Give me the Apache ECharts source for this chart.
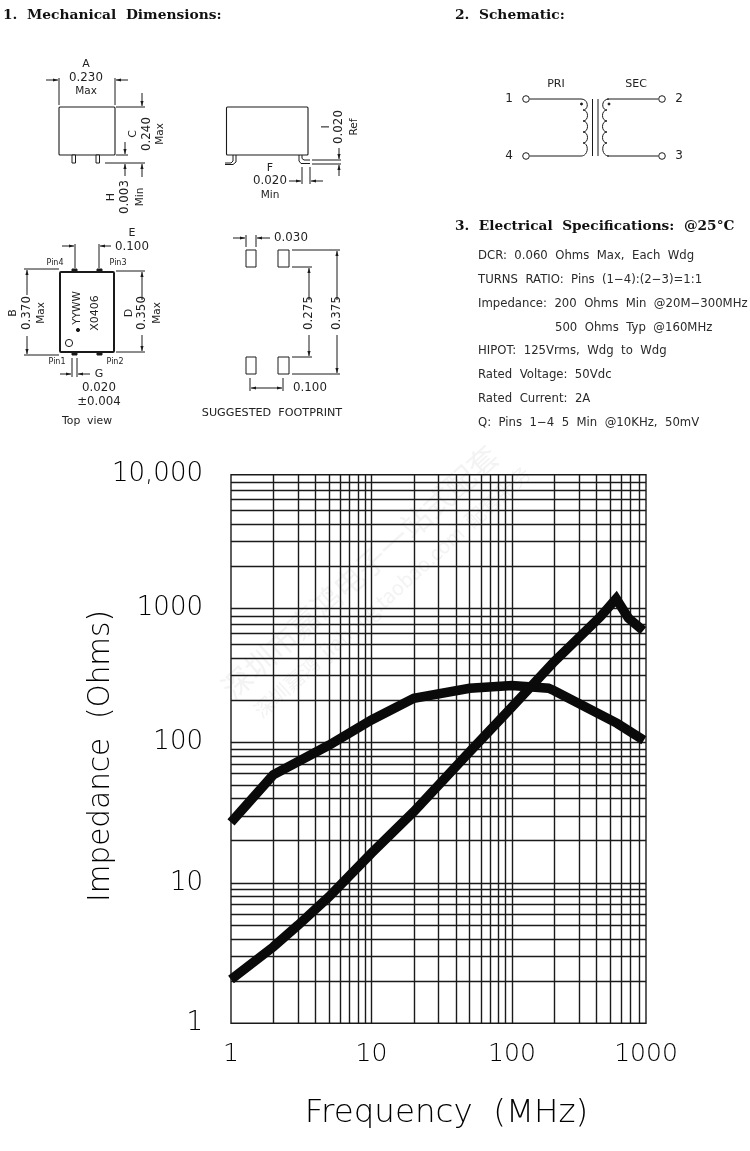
<!DOCTYPE html>
<html><head><meta charset="utf-8">
<style>html,body{margin:0;padding:0;background:#fff}#c{width:750px;height:1151px}</style>
<script src="https://cdn.jsdelivr.net/npm/echarts@6/dist/echarts.min.js"></script>
</head><body><div id="c"></div>
<script>
// Chart data. The printed grid stops at its 9th line, which carries the next decade's label.
var xGridValues = [2,3,4,5,6,7,8,9,10,20,30,40,50,60,70,80,90,100,200,300,400,500,600,700,800];
var yGridValues = [2,3,4,5,6,7,8,9,10,20,30,40,50,60,70,80,90,100,200,300,400,500,600,700,800,900,1800,2700,3600,4500,5400,6300,7200];
var xTickValues = [1,10,100,900];
var xTickLabels = ['1','10','100','1000'];
var yTickValues = [1,10,100,900,8100];
var yTickLabels = ['1','10','100','1000','10,000'];
var curveMagnitudeA = [[1,27],[2,59],[5,96],[10,145],[20,207],[50,244],[100,255],[182,244],[200,234],[561,137],[869,104]];
var curveMagnitudeB = [[1,2.05],[2,3.5],[3,5],[5,8],[10,16.3],[20,32.2],[50,86],[100,179],[200,378],[427,790],[552,1060],[675,770],[860,628]];

var ink = '#1a1a1a';
var els = [];
function line(x1,y1,x2,y2,w){els.push({type:'line',silent:true,shape:{x1:x1,y1:y1,x2:x2,y2:y2},style:{stroke:ink,lineWidth:w||1}});}
function rect(x,y,w,h,lw,r,fill){els.push({type:'rect',silent:true,shape:{x:x,y:y,width:w,height:h,r:r||0},style:{fill:fill||'#fff',stroke:ink,lineWidth:lw||1}});}
function text(s,x,y,size,rot,font,weight,color){els.push({type:'text',silent:true,x:x,y:y,rotation:rot?Math.PI/2:0,style:{text:s,x:0,y:0,fill:color||'#222',font:(weight||'normal')+' '+size+'px '+(font||'"DejaVu Sans"'),textAlign:'center',textVerticalAlign:'middle'}});}
function ltext(s,x,y,size,font,weight,color){els.push({type:'text',silent:true,x:x,y:y,style:{text:s,x:0,y:0,fill:color||'#111',font:(weight||'normal')+' '+size+'px '+(font||'"DejaVu Sans"'),textAlign:'left',textVerticalAlign:'middle'}});}
function arrow(x1,y1,x2,y2){
  line(x1,y1,x2,y2,1);
  var dx=x2-x1,dy=y2-y1,l=Math.sqrt(dx*dx+dy*dy),ux=dx/l,uy=dy/l,a=5,b=1.6;
  els.push({type:'polygon',silent:true,shape:{points:[[x2,y2],[x2-ux*a-uy*b,y2-uy*a+ux*b],[x2-ux*a+uy*b,y2-uy*a-ux*b]]},style:{fill:ink}});
}
function poly(points,w){els.push({type:'polyline',silent:true,shape:{points:points},style:{fill:null,stroke:ink,lineWidth:w||1}});}
function bez(x1,y1,cx1,cy1,cx2,cy2,x2,y2){els.push({type:'bezierCurve',silent:true,shape:{x1:x1,y1:y1,cpx1:cx1,cpy1:cy1,cpx2:cx2,cpy2:cy2,x2:x2,y2:y2},style:{fill:null,stroke:ink,lineWidth:1}});}
function circle(x,y,r,fill){els.push({type:'circle',silent:true,shape:{cx:x,cy:y,r:r},style:{fill:fill||'#fff',stroke:ink,lineWidth:1}});}
function coil(xa,xb,dir){
  var ys=[99,110,121,132,143,156];
  for(var i=0;i<5;i++){
    var x0=i===0?xa:xb, x1=i===4?xa:xb;
    bez(x0,ys[i],xb+dir*6,ys[i],xb+dir*6,ys[i+1],x1,ys[i+1]);
  }
}

var SERIF='"DejaVu Serif"';
// Faint background stamp
els.push({type:'text',silent:true,x:360,y:572,rotation:Math.PI*42/180,z:-1,style:{text:'深圳市嘉鸿电子一站式配套',x:0,y:0,fill:'#f3f3f3',font:'30px "Noto Sans CJK SC"',textAlign:'center',textVerticalAlign:'middle'}});
els.push({type:'text',silent:true,x:392,y:592,rotation:Math.PI*42/180,z:-1,style:{text:'深圳嘉鸿  jiahong.taobao.com  配套服务',x:0,y:0,fill:'#f3f3f3',font:'20px "Noto Sans CJK SC"',textAlign:'center',textVerticalAlign:'middle'}});
// Headings
ltext('1.  Mechanical  Dimensions:',3,15,13.8,SERIF,'bold');
ltext('2.  Schematic:',455,15,13.8,SERIF,'bold');
ltext('3.  Electrical  Specifications:  @25°C',455,226,13.7,SERIF,'bold');

// Drawing 1
rect(59,107,56,48,1.1,1);
rect(72,155,3.5,8,1);rect(96,155,3.5,8,1);
line(59,78,59,105);line(115,78,115,105);
arrow(46,80,58,80);arrow(128,80,116,80);
text('A',86,64,11);text('0.230',86,78,11.8);text('Max',86,91,10.5);
line(116,107,145,107);arrow(142,93,142,106);
line(116,155,128,155);arrow(125,142,125,154);
text('C',133,134,11,true);text('0.240',147,134,11.8,true);text('Max',160,134,10.5,true);
line(105,163,145,163);arrow(125,176,125,164);arrow(142,177,142,164);
text('H',111,197,11,true);text('0.003',125,197,11.8,true);text('Min',140,197,10.5,true);

// Drawing 2
rect(226.5,107,81.5,48,1.1,1);
poly([[233,155],[233,161],[231,163],[225,163]]);
poly([[236,155],[236,162],[233,164.5],[225,164.5]]);
poly([[299,155],[299,161],[301,163.5],[310,163.5]]);
poly([[302,155],[302,158.5],[304,160],[310,160]]);
line(312,160,341,160);line(312,164,341,164);
arrow(339,148,339,159);arrow(339,176,339,165);
text('I',326,127,11,true);text('0.020',339,127,11.8,true);text('Ref',354,127,10.5,true);
line(302,167,302,184);line(310,167,310,184);
arrow(289,181,301,181);arrow(323,181,311,181);
text('F',270,168,11);text('0.020',270,181,11.8);text('Min',270,195,10.5);

// Top view
rect(72,269,5,3,1,0,ink);rect(97,269,5,3,1,0,ink);rect(72,352,5,3,1,0,ink);rect(97,352,5,3,1,0,ink);
rect(60,272,54,80,2,1);
line(24,269,59,269);line(24,355,59,355);
arrow(27,295,27,270);arrow(27,336,27,354);
text('B',13,313,11,true);text('0.370',27,313,11.8,true);text('Max',41,313,10.5,true);
text('YYWW',77,308,10.5,true);circle(78,330,1.6,ink);
text('X0406',95,313,11,true);circle(69,343,3.6);
line(116,271,145,271);line(116,352,145,352);
arrow(142,300,142,272);arrow(142,335,142,351);
text('D',129,313,11,true);text('0.350',142,313,11.8,true);text('Max',157,313,10.5,true);
text('Pin4',55,263,8);text('Pin3',118,263,8);text('Pin1',57,362,8);text('Pin2',115,362,8);
text('E',132,233,11);text('0.100',132,247,11.8);
line(75,244,75,268);line(99,244,99,268);
arrow(62,246,74,246);arrow(111,246,100,246);
line(72,358,72,377);line(77,358,77,377);
arrow(60,374,71,374);arrow(90,374,78,374);
text('G',99,374,11);text('0.020',99,388,11.8);text('±0.004',99,402,11.8);text('Top  view',87,421,10.8);

// Footprint
rect(246,250,10,17,1);rect(278,250,11,17,1);rect(246,357,10,17,1);rect(278,357,11,17,1);
line(246,235,246,247);line(256,235,256,247);
arrow(233,238,245,238);arrow(270,238,257,238);text('0.030',291,238,11.8);
line(292,250,340,250);line(292,267,312,267);line(292,357,312,357);line(292,374,340,374);
arrow(309,300,309,268);arrow(309,335,309,356);text('0.275',309,313,11.8,true);
arrow(337,300,337,251);arrow(337,335,337,373);text('0.375',337,313,11.8,true);
line(250,378,250,391);line(283,378,283,391);
arrow(262,388,251,388);arrow(270,388,282,388);line(262,388,270,388);
text('0.100',310,388,11.8);text('SUGGESTED  FOOTPRINT',272,413,11.2);

// Schematic
text('PRI',556,84,11);text('SEC',636,84,11);
text('1',509,99,12);text('4',509,156,12);text('2',679,99,12);text('3',679,156,12);
circle(526,99,3.3);circle(526,156,3.3);circle(662,99,3.3);circle(662,156,3.3);
line(530,99,581,99);line(530,156,581,156);line(607,99,658,99);line(607,156,658,156);
line(592.5,99,592.5,156);line(598,99,598,156);
coil(581,583,1);coil(609,607,-1);
circle(581.5,104,1,ink);circle(609,104,1,ink);

// Specs
var F='"DejaVu Sans"', SPEC=11.7, SC='#2a2a2a';
ltext('DCR:  0.060  Ohms  Max,  Each  Wdg',478,256,SPEC,F,null,SC);
ltext('TURNS  RATIO:  Pins  (1−4):(2−3)=1:1',478,280,SPEC,F,null,SC);
ltext('Impedance:  200  Ohms  Min  @20M−300MHz',478,304,SPEC,F,null,SC);
ltext('500  Ohms  Typ  @160MHz',555,328,SPEC,F,null,SC);
ltext('HIPOT:  125Vrms,  Wdg  to  Wdg',478,351,SPEC,F,null,SC);
ltext('Rated  Voltage:  50Vdc',478,375,SPEC,F,null,SC);
ltext('Rated  Current:  2A',478,399,SPEC,F,null,SC);
ltext('Q:  Pins  1−4  5  Min  @10KHz,  50mV',478,423,SPEC,F,null,SC);

function gridLines(vals,dim){
  return vals.map(function(v){var o={};o[dim]=v;return o;});
}
var THIN='"DejaVu Sans Light","DejaVu Sans ExtraLight","DejaVu Sans"';
var chart = echarts.init(document.getElementById('c'),null,{renderer:'canvas',width:750,height:1151});
var gridStyle={color:'#1a1a1a',width:1.4,type:'solid'};
chart.setOption({
  animation:false,
  backgroundColor:'#fff',
  graphic:{elements:els},
  grid:{left:231,top:474.7,width:415,height:548.6,show:true,borderColor:'#1a1a1a',borderWidth:1.4,backgroundColor:'transparent'},
  xAxis:{type:'log',logBase:10,min:1,max:900,
    name:'Frequency  (MHz)',nameLocation:'middle',nameGap:74,nameMoveOverlap:false,
    nameTextStyle:{fontFamily:THIN,fontSize:32.5,color:'#000',padding:[0,0,0,16]},
    axisLine:{show:false},axisTick:{show:false},splitLine:{show:false},minorSplitLine:{show:false},
    axisLabel:{show:true,customValues:xTickValues,margin:19,color:'#000',fontFamily:THIN,fontSize:25,
      showMinLabel:true,showMaxLabel:true,hideOverlap:false,
      formatter:function(v){return xTickLabels[xTickValues.indexOf(Math.round(v))];}}},
  yAxis:{type:'log',logBase:10,min:1,max:8100,
    name:'Impedance  (Ohms)',nameLocation:'middle',nameGap:115,nameMoveOverlap:false,
    nameTextStyle:{fontFamily:THIN,fontSize:29.5,color:'#000',padding:[0,14,0,0]},
    axisLine:{show:false},axisTick:{show:false},splitLine:{show:false},minorSplitLine:{show:false},
    axisLabel:{show:true,customValues:yTickValues,margin:28,color:'#000',fontFamily:THIN,fontSize:26,
      showMinLabel:true,showMaxLabel:true,hideOverlap:false,
      formatter:function(v){return yTickLabels[yTickValues.indexOf(Math.round(v))];}}},
  series:[
    {type:'line',name:'Grid',data:[],silent:true,
     markLine:{silent:true,symbol:'none',animation:false,label:{show:false},lineStyle:gridStyle,
       data:gridLines(xGridValues,'xAxis').concat(gridLines(yGridValues,'yAxis'))}},
    {type:'line',name:'Magnitude A',data:curveMagnitudeA,showSymbol:false,symbol:'none',clip:false,
     lineStyle:{color:'#0a0a0a',width:9.5,cap:'butt',join:'miter'},z:5},
    {type:'line',name:'Magnitude B',data:curveMagnitudeB,showSymbol:false,symbol:'none',clip:false,
     lineStyle:{color:'#0a0a0a',width:9.5,cap:'butt',join:'miter'},z:5}
  ]
});
</script></body></html>
